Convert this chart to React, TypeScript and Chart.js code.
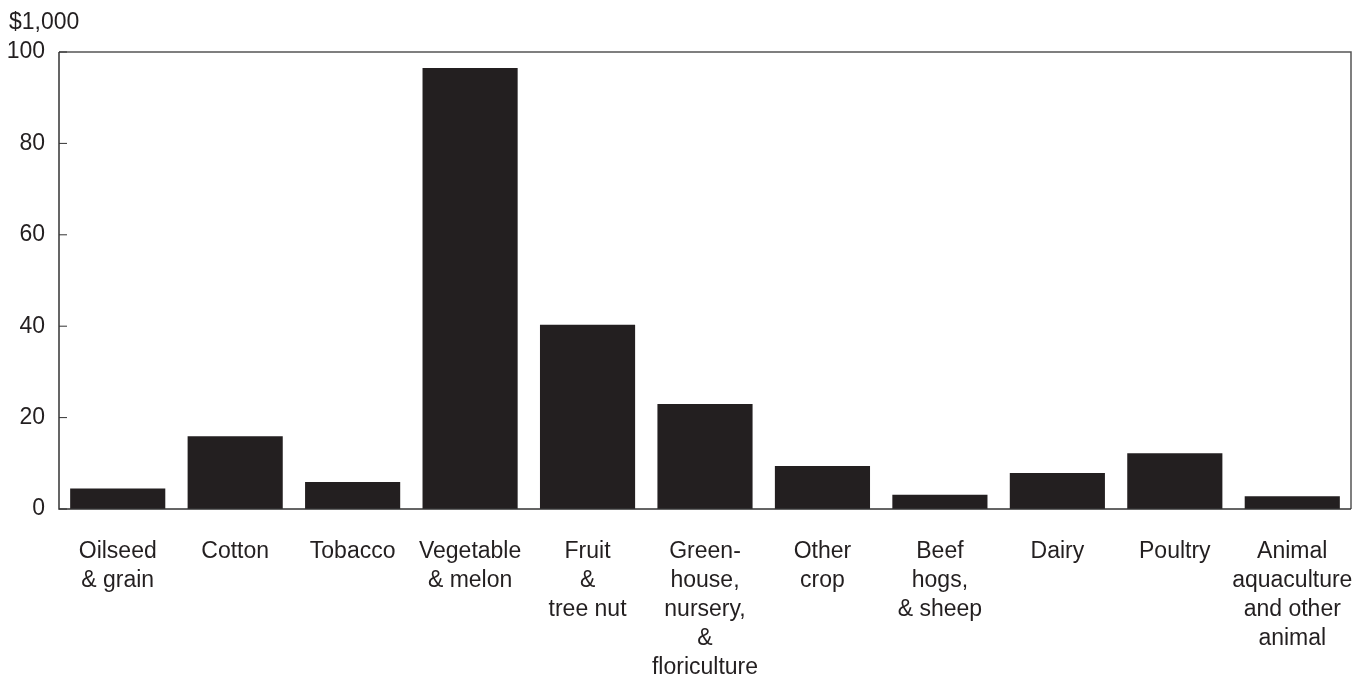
import React, { useEffect, useRef } from "react";
import { Chart, registerables } from "chart.js";

Chart.register(...registerables);

const categories: string[][] = [
  ["Oilseed", "& grain"],
  ["Cotton"],
  ["Tobacco"],
  ["Vegetable", "& melon"],
  ["Fruit", "&", "tree nut"],
  ["Green-", "house,", "nursery,", "&", "floriculture"],
  ["Other", "crop"],
  ["Beef", "hogs,", "& sheep"],
  ["Dairy"],
  ["Poultry"],
  ["Animal", "aquaculture", "and other", "animal"],
];
const values: number[] = [4.5, 15.9, 5.9, 96.5, 40.3, 23.0, 9.4, 3.1, 7.9, 12.2, 2.8];
const yTicks: number[] = [0, 20, 40, 60, 80, 100];
const unitLabel = "$1,000";

const FONT = "'Liberation Sans', Arial, sans-serif";
const INK = "#231f20";

export default function App() {
  const ref = useRef<HTMLCanvasElement | null>(null);
  useEffect(() => {
    document.body.style.margin = "0";
    const canvas = ref.current!;
    const framePlugin = {
      id: "frame",
      afterDraw(chart: any) {
        const { ctx, chartArea } = chart;
        const y = chart.scales.y;
        ctx.save();
        ctx.strokeStyle = "#555555";
        ctx.lineWidth = 1.5;
        ctx.beginPath();
        ctx.moveTo(chartArea.left, chartArea.top);
        ctx.lineTo(chartArea.right, chartArea.top);
        ctx.lineTo(chartArea.right, chartArea.bottom);
        ctx.stroke();
        ctx.strokeStyle = "#333333";
        ctx.beginPath();
        ctx.moveTo(chartArea.left, chartArea.top);
        ctx.lineTo(chartArea.left, chartArea.bottom);
        ctx.lineTo(chartArea.right, chartArea.bottom);
        ctx.stroke();
        ctx.lineWidth = 1;
        yTicks.forEach((v) => {
          const py = y.getPixelForValue(v);
          ctx.beginPath();
          ctx.moveTo(chartArea.left, py);
          ctx.lineTo(chartArea.left + 8, py);
          ctx.stroke();
        });
        ctx.fillStyle = INK;
        ctx.font = `23px ${FONT}`;
        ctx.textBaseline = "alphabetic";
        ctx.textAlign = "left";
        ctx.fillText(unitLabel, 9, 29);
        ctx.restore();
      },
    };
    const chart = new Chart(canvas, {
      type: "bar",
      data: {
        labels: categories,
        datasets: [
          {
            data: values,
            backgroundColor: INK,
            borderWidth: 0,
            categoryPercentage: 1,
            barPercentage: 0.81,
          },
        ],
      },
      options: {
        animation: false,
        responsive: false,
        maintainAspectRatio: false,
        layout: { padding: { top: 52, right: 13, left: 0, bottom: 0 } },
        plugins: { legend: { display: false }, tooltip: { enabled: false } },
        scales: {
          x: {
            grid: { display: false, drawTicks: false },
            border: { display: false },
            ticks: {
              color: INK,
              font: { family: FONT, size: 23, lineHeight: 1.26 },
              padding: 28,
              maxRotation: 0,
              autoSkip: false,
            },
            afterFit(scale: any) {
              scale.height = 173;
              scale.paddingLeft = 0;
              scale.paddingRight = 0;
            },
          },
          y: {
            min: 0,
            max: 100,
            grid: { display: false, drawTicks: false },
            border: { display: false },
            afterBuildTicks(scale: any) {
              scale.ticks = yTicks.map((v) => ({ value: v }));
            },
            ticks: {
              color: INK,
              font: { family: FONT, size: 23 },
              padding: 14,
            },
            afterFit(scale: any) {
              scale.width = 59;
              scale.paddingTop = 0;
              scale.paddingBottom = 0;
            },
          },
        },
      },
      plugins: [framePlugin],
    });
    return () => chart.destroy();
  }, []);
  return (
    <div style={{ position: "relative", width: 1364, height: 682 }}>
      <canvas ref={ref} width={1364} height={682} style={{ display: "block" }} />
    </div>
  );
}
